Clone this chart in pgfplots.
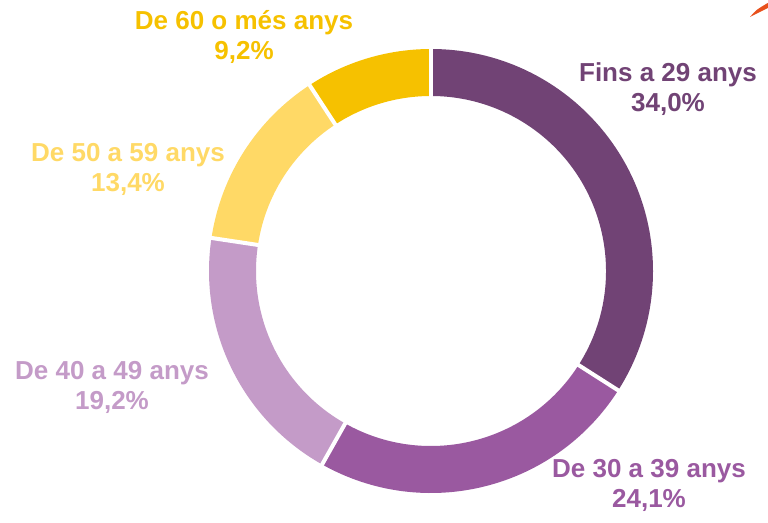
\documentclass[border=0pt]{standalone}
\usepackage{fontspec}
\setmainfont{Liberation Sans}
\usepackage{pgfplots}
\pgfplotsset{compat=1.18}

\definecolor{cA}{HTML}{714375}
\definecolor{cB}{HTML}{9A59A0}
\definecolor{cC}{HTML}{C49BC8}
\definecolor{cD}{HTML}{FFD966}
\definecolor{cE}{HTML}{F6C100}
\definecolor{swoosh}{HTML}{E8501C}

% ring geometry in pt (1 axis unit = 1pt)
\def\cx{431}\def\cy{246}\def\Ro{222}\def\Ri{175}
\def\tot{99.9}

% #1 = cumulative share before, #2 = share, #3 = colour
\newcommand\seg[3]{%
  \pgfmathsetmacro\aA{90-(360/\tot)*#1}%
  \pgfmathsetmacro\aB{90-(360/\tot)*(#1+#2)}%
  \edef\tmp{\noexpand\fill[#3] (axis cs:\cx,\cy) ++(\aA:\Ro pt)
    arc[start angle=\aA, end angle=\aB, radius=\Ro pt]
    -- ++(\aB+180:\Ro pt-\Ri pt)
    arc[start angle=\aB, end angle=\aA, radius=\Ri pt] -- cycle;}%
  \tmp
}
\newcommand\gap[1]{%
  \pgfmathsetmacro\aA{90-(360/\tot)*#1}%
  \edef\tmp{\noexpand\draw[white, line width=4pt] (axis cs:\cx,\cy) ++(\aA:\Ri pt-5pt) -- ++(\aA:\Ro pt-\Ri pt+10pt);}%
  \tmp
}
\tikzset{lab/.style={font=\bfseries\fontsize{26}{30}\selectfont, align=center, inner sep=0pt}}

\begin{document}
\begin{tikzpicture}
\begin{axis}[
    x=1pt, y=1pt,
    xmin=0, xmax=768, ymin=0, ymax=517,
    hide axis, clip=false,
]
\path (axis cs:0,0) rectangle (axis cs:768,517);
\seg{0}{34.0}{cA}
\seg{34.0}{24.1}{cB}
\seg{58.1}{19.2}{cC}
\seg{77.3}{13.4}{cD}
\seg{90.7}{9.2}{cE}
\gap{0}
\gap{34.0}
\gap{58.1}
\gap{77.3}
\gap{90.7}

\node[lab, text=cA] at (axis cs:668,428) {Fins a 29 anys\\34,0\%};
\node[lab, text=cB] at (axis cs:649,32) {De 30 a 39 anys\\24,1\%};
\node[lab, text=cC] at (axis cs:112,130) {De 40 a 49 anys\\19,2\%};
\node[lab, text=cD] at (axis cs:128,348) {De 50 a 59 anys\\13,4\%};
\node[lab, text=cE] at (axis cs:244,480) {De 60 o més anys\\9,2\%};

\fill[swoosh] (axis cs:750,500) .. controls (axis cs:756,507) .. (axis cs:766,513) -- (axis cs:768,514) -- (axis cs:768,509) .. controls (axis cs:760,505) .. cycle;
\end{axis}
\end{tikzpicture}
\end{document}
